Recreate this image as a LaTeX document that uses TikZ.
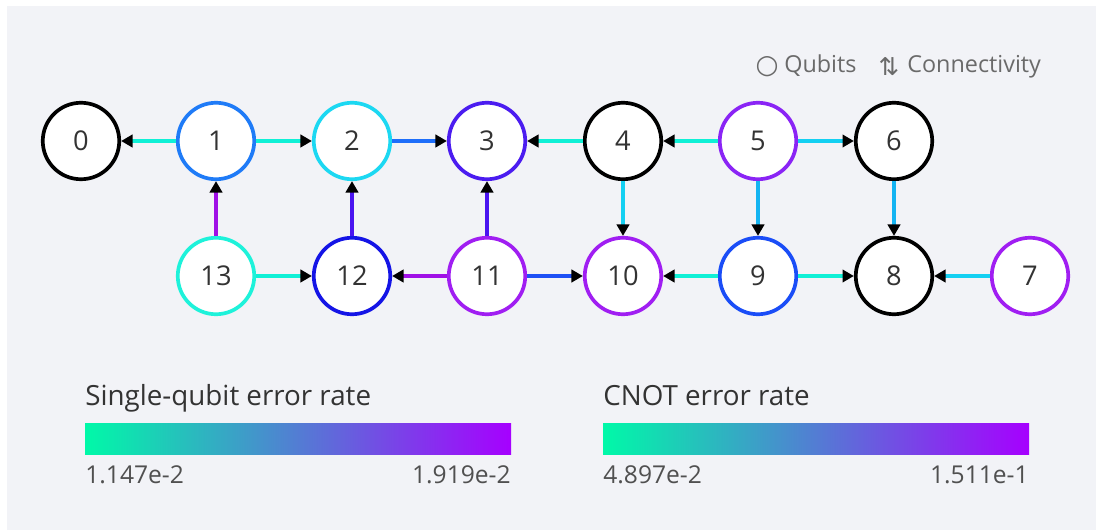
\documentclass[tikz,border=0pt]{standalone}
\usepackage{fontspec}
\setmainfont{Open Sans}
\newfontfamily\glyphfont{DejaVu Sans}
\usetikzlibrary{arrows.meta}

\definecolor{panel}{HTML}{F2F3F7}
\definecolor{txtdark}{HTML}{333333}
\definecolor{txtgray}{HTML}{505050}
\definecolor{legendgray}{HTML}{6A6A6A}
% qubit rings
\definecolor{qa}{HTML}{1F7BF7}
\definecolor{qb}{HTML}{1CD8F2}
\definecolor{qc}{HTML}{4B1CF0}
\definecolor{qd}{HTML}{8A24F5}
\definecolor{qe}{HTML}{A01EF2}
\definecolor{qf}{HTML}{1A4DF7}
\definecolor{qg}{HTML}{1414E6}
\definecolor{qh}{HTML}{1EF2DA}
% couplers
\definecolor{cturq}{HTML}{10F0D6}
\definecolor{ccyan}{HTML}{14D0F2}
\definecolor{csky}{HTML}{14B4F2}
\definecolor{cblue}{HTML}{1E6EFA}
\definecolor{croyal}{HTML}{1E50F5}
\definecolor{cindigo}{HTML}{4A14F0}
\definecolor{cviolet}{HTML}{A010E6}
% colour bars
\definecolor{barlow}{HTML}{00F9A8}
\definecolor{barmid}{HTML}{5676D8}
\definecolor{barhigh}{HTML}{A600FF}

\tikzset{
  qubit/.style={circle, draw=#1, line width=2.1pt, fill=white, inner sep=0pt,
    minimum size=1.53cm, text=txtdark, font=\fontsize{15.5}{18}\selectfont},
  link/.style={draw=#1, line width=2.1pt,
    -{Triangle[length=6.5pt,width=7pt,color=black]}},
  bartitle/.style={anchor=base west, inner sep=0pt, text=txtdark,
    font=\fontsize{15.8}{18}\selectfont},
  barvalue/.style={inner sep=0pt, text=txtgray, font=\fontsize{14}{16}\selectfont},
  legendtext/.style={anchor=base west, inner sep=0pt, text=legendgray,
    font=\fontsize{13.3}{15}\selectfont},
}

\begin{document}
\begin{tikzpicture}[x=0.02cm, y=-0.02cm]
		%%%%% PANEL %%%%%
		
		\fill[white] (0, 0) rectangle (1096, 530);
		\useasboundingbox (0, 0) rectangle (1096, 530);
		\fill[panel] (7, 6) rectangle (1096, 530);
		
		%%%%% LEGEND %%%%%
		
		\node[inner sep=0pt, text=legendgray, font=\glyphfont\fontsize{15}{15}\selectfont] (qsym) at (767, 67) {○};
		\node[legendtext] (qlabel) at (784, 73) {Qubits};
		\node[inner sep=0pt, text=legendgray, font=\glyphfont\fontsize{14}{14}\selectfont] (csym) at (889, 67) {⇅};
		\node[legendtext] (clabel) at (907, 73) {Connectivity};
		
		%%%%% QUBITS %%%%%
		
		\node[qubit=black] (q0) at (81, 141) {0};
		\node[qubit=qa] (q1) at (216, 141) {1};
		\node[qubit=qb] (q2) at (352, 141) {2};
		\node[qubit=qc] (q3) at (487, 141) {3};
		\node[qubit=black] (q4) at (623, 141) {4};
		\node[qubit=qd] (q5) at (758, 141) {5};
		\node[qubit=black] (q6) at (894, 141) {6};
		
		\node[qubit=qh] (q13) at (216, 276) {13};
		\node[qubit=qg] (q12) at (352, 276) {12};
		\node[qubit=qe] (q11) at (487, 276) {11};
		\node[qubit=qe] (q10) at (623, 276) {10};
		\node[qubit=qf] (q9) at (758, 276) {9};
		\node[qubit=black] (q8) at (894, 276) {8};
		\node[qubit=qe] (q7) at (1030, 276) {7};
		
		%%%%% COUPLERS %%%%%
		
		\draw[link=cturq] (q1) -- (q0);
		\draw[link=cturq] (q1) -- (q2);
		\draw[link=cblue] (q2) -- (q3);
		\draw[link=cturq] (q4) -- (q3);
		\draw[link=cturq] (q5) -- (q4);
		\draw[link=ccyan] (q5) -- (q6);
		
		\draw[link=cviolet] (q13) -- (q1);
		\draw[link=cindigo] (q12) -- (q2);
		\draw[link=cindigo] (q11) -- (q3);
		\draw[link=ccyan] (q4) -- (q10);
		\draw[link=csky] (q5) -- (q9);
		\draw[link=csky] (q6) -- (q8);
		
		\draw[link=cturq] (q13) -- (q12);
		\draw[link=cviolet] (q11) -- (q12);
		\draw[link=croyal] (q11) -- (q10);
		\draw[link=cturq] (q9) -- (q10);
		\draw[link=cturq] (q9) -- (q8);
		\draw[link=ccyan] (q7) -- (q8);
		
		%%%%% COLOUR BARS %%%%%
		
		\node[bartitle] (sqtitle) at (85, 405) {Single-qubit error rate};
		\shade[left color=barlow, middle color=barmid, right color=barhigh] (85, 423) rectangle (511, 454);
		\node[barvalue, anchor=base west] (sqlow) at (85, 483) {1.147e-2};
		\node[barvalue, anchor=base east] (sqhigh) at (511, 483) {1.919e-2};
		
		\node[bartitle] (cxtitle) at (603, 405) {CNOT error rate};
		\shade[left color=barlow, middle color=barmid, right color=barhigh] (603, 423) rectangle (1029, 454);
		\node[barvalue, anchor=base west] (cxlow) at (603, 483) {4.897e-2};
		\node[barvalue, anchor=base east] (cxhigh) at (1029, 483) {1.511e-1};
		
		%%%%% END %%%%%
	\end{tikzpicture}
\end{document}
